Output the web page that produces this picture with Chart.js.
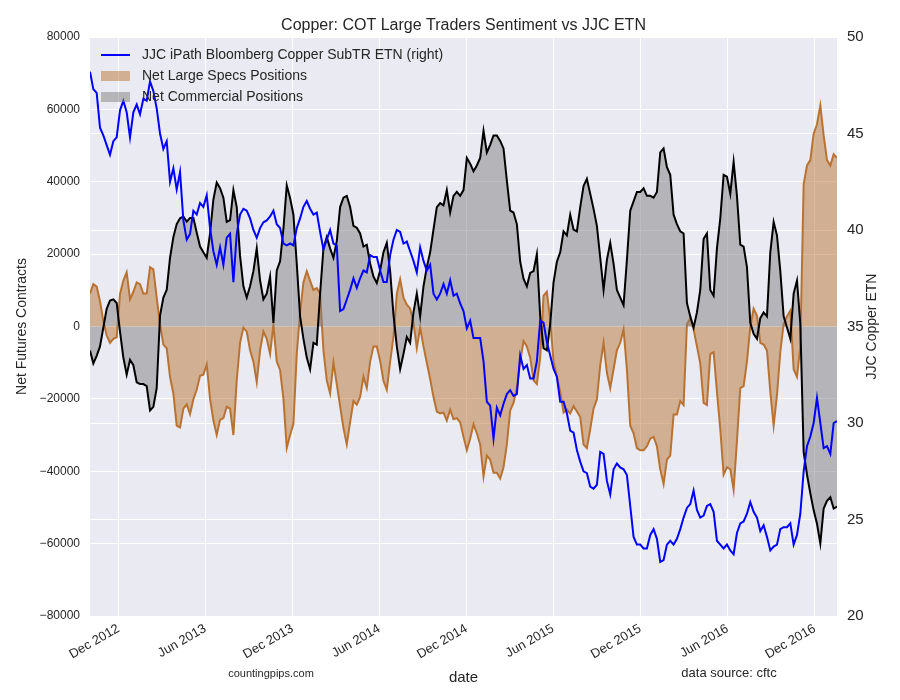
<!DOCTYPE html>
<html>
<head>
<meta charset="utf-8">
<title>Copper: COT Large Traders Sentiment vs JJC ETN</title>
<script src="https://cdn.jsdelivr.net/npm/chart.js@4.4.1/dist/chart.umd.min.js"></script>
<style>
  html, body { margin: 0; padding: 0; background: #fff; }
  #chart { display: block; }
</style>
</head>
<body>
<canvas id="chart" width="900" height="700"></canvas>
<script>
// weekly COT report dates, first report in the series
const startDate = '2012-10-02';

// x axis ticks
const tickDates = ['2012-12-01', '2013-06-01', '2013-12-01', '2014-06-01', '2014-12-01',
                   '2015-06-01', '2015-12-01', '2016-06-01', '2016-12-01'];
const tickLabels = ['Dec 2012', 'Jun 2013', 'Dec 2013', 'Jun 2014', 'Dec 2014',
                    'Jun 2015', 'Dec 2015', 'Jun 2016', 'Dec 2016'];

// JJC iPath Bloomberg Copper SubTR ETN, weekly close (right axis)
const jjcPrice = [
  48.2, 47.3, 47.1, 45.3, 44.9, 44.4, 43.9, 44.6, 44.8, 46.2,
  46.7, 46.1, 44.8, 46.1, 46.5, 46.0, 46.8, 46.7, 47.7, 47.2,
  46.3, 45.0, 44.2, 44.6, 42.5, 43.2, 42.1, 43.0, 40.5,
  39.5, 39.8, 41.0, 40.8, 41.4, 41.2, 41.8, 40.1, 38.9, 38.2,
  39.1, 38.2, 39.6, 39.8, 37.3, 39.8, 40.8, 41.1, 41.0, 40.6,
  40.0, 39.6, 40.1, 40.4, 40.5, 40.7, 41.0, 40.3,
  40.1, 39.3, 39.2, 39.3, 39.2, 40.1, 40.6, 41.2, 41.5, 41.1,
  40.8, 40.9, 39.9, 39.0, 39.5, 40.0, 39.3, 39.2, 35.8, 35.9,
  36.4, 36.9, 37.5, 37.0, 37.5, 37.9, 37.8, 38.7, 38.6,
  38.6, 37.9, 37.3, 37.3, 38.7, 39.5, 40.0, 39.9, 39.3, 39.4,
  38.9, 38.4, 37.8, 39.1, 38.4, 37.9, 38.2, 36.7, 36.4, 36.7,
  37.2, 36.7, 37.4, 36.6, 36.7, 36.2, 35.8, 34.9,
  35.3, 34.4, 34.4, 34.4, 33.2, 31.1, 30.9, 29.2, 30.8, 30.4,
  31.0, 31.5, 31.7, 31.4, 31.5, 33.5, 32.8, 33.0, 32.3, 32.3,
  33.2, 35.3, 35.2, 34.2, 33.5, 32.8, 32.4, 31.1, 31.1,
  30.5, 29.6, 29.5, 28.6, 28.0, 27.5, 27.4, 26.7, 26.6, 26.8,
  28.5, 28.4, 27.0, 26.3, 27.6, 27.9, 27.7, 27.6, 27.3, 25.7,
  24.1, 23.7, 23.7, 23.5, 23.5, 24.2, 24.5, 24.0,
  22.8, 22.9, 23.7, 23.9, 23.7, 24.0, 24.5, 25.1, 25.6, 25.8,
  26.5, 25.5, 25.1, 25.2, 25.7, 25.8, 25.4, 23.9, 23.7, 23.5,
  23.7, 23.4, 23.2, 24.3, 24.8, 24.9, 25.3, 25.9, 25.4,
  25.1, 24.4, 24.7, 24.1, 23.4, 23.6, 23.7, 24.5, 24.6, 24.6,
  24.8, 23.7, 24.2, 25.3, 27.5, 28.8, 29.3, 30.0, 31.3, 30.0,
  28.7, 28.8, 28.4, 30.0, 30.1
];

// Net large speculator positions (contracts)
const netSpecs = [
  9100, 11700, 11000, 7000, 1500, -2500, -4500, -3400, -3000, 9000,
  12700, 15000, 7500, 9600, 12200, 11700, 9100, 9100, 16400, 15800,
  8000, 500, -5000, -6000, -14000, -18500, -27400, -27900, -22700,
  -21500, -24200, -20100, -17500, -13600, -13300, -10500, -20000, -26000, -30000,
  -25800, -25300, -22200, -22700, -30000, -14900, -4500, -300, -1400, -6600,
  -9700, -15400, -6600, -1400, -3400, -7600, 500, -9700,
  -12000, -20000, -33600, -30000, -26900, -7600, 3900, 12200, 15300, 12700,
  10100, 10600, 9100, -6600, -14900, -18500, -10000, -15900, -22000, -28000,
  -32600, -26400, -20600, -21600, -19500, -13900, -17000, -9700, -5500,
  -5500, -9500, -15000, -17500, -9700, -2900, 9100, 13000, 8000, 6000,
  5000, 1000, -6000, -300, -5500, -10000, -14500, -19500, -23500, -24000,
  -23800, -26000, -23000, -25600, -25300, -26500, -30500, -34200,
  -31000, -27000, -29500, -32600, -41500, -35700, -36800, -40400, -40400, -42000,
  -38900, -32600, -23200, -21100, -17000, -9700, -4000, -5500, -8600, -14900,
  -15900, -8600, 8500, 9600, 1800, -9700, -13900, -18000, -23800,
  -23000, -24000, -22000, -23500, -25000, -32600, -33600, -28400, -22700, -20100,
  -10700, -4500, -12800, -17000, -11800, -6600, -4500, -800, -11800, -27400,
  -29500, -33600, -34200, -34200, -33100, -31000, -30500, -33100,
  -39500, -43500, -36800, -35700, -24300, -24300, -20600, -21700, 700, 2300,
  -800, -5500, -10200, -21100, -21700, -7600, -7100, -18000, -28400, -40900,
  -38900, -39400, -45100, -31600, -17000, -16500, -9700, 0, 4900,
  3000, -4500, -5000, -6600, -18000, -27400, -19000, -7000, 700, 2800,
  4400, -11800, -13900, -5500, 39300, 44500, 46000, 53300, 55900, 61100,
  52800, 46000, 44500, 47600, 46600
];

// Net commercial positions (contracts)
const netCommercials = [
  -6600, -10200, -8100, -5500, -300, 4900, 7200, 7500, 6500, -1400,
  -8600, -13300, -9200, -10700, -15400, -15900, -15900, -16500, -23200, -22200,
  -17000, 3000, 8000, 10100, 19000, 24700, 28300, 29900, 30400,
  29000, 30000, 30000, 26000, 22100, 20500, 19000, 25700, 35100, 39800,
  38200, 35600, 28900, 29400, 37700, 33000, 19500, 11100, 8000, 11100,
  15300, 21600, 12700, 7500, 9100, 13800, 1000, 15500,
  18000, 27000, 39000, 35500, 30900, 17400, 2800, -3400, -8600, -11800,
  -4500, -5000, 9100, 21600, 24700, 21600, 19000, 23600, 33000, 35600,
  36100, 33000, 27800, 27300, 25700, 22100, 22600, 17400, 13800,
  12000, 15500, 20500, 23100, 15300, 3300, -5500, -11800, -7600, -2900,
  -4500, 3900, 9100, 2800, 11100, 16400, 20500, 26800, 33000, 34100,
  33500, 37700, 31500, 36100, 37200, 36100, 37700, 46600,
  45000, 42900, 44500, 46600, 54100, 48100, 50200, 52800, 52800, 51300,
  49200, 40300, 32000, 31500, 28300, 17900, 13200, 11100, 14800, 15300,
  20000, 2800, -6000, -6600, 700, 12200, 17900, 20500, 26300,
  25200, 30900, 26800, 26300, 33000, 38800, 40800, 36700, 32500, 27800,
  19000, 10100, 18400, 23100, 17400, 10100, 8000, 5900, 18400, 32000,
  34600, 37200, 37200, 38200, 36100, 36100, 35600, 37200,
  48100, 49200, 44000, 41900, 30900, 28300, 26300, 25700, 6500, 2800,
  -300, 3900, 10100, 24200, 25700, 10100, 8500, 21600, 29900, 41900,
  41400, 36700, 45500, 36100, 22600, 22100, 16400, 1000, -2000,
  -3400, 2300, 3900, 2800, 20500, 28900, 25200, 15300, 2800, -300,
  -3400, 9100, 12700, 700, -34700, -40900, -46100, -50800, -54500, -60000,
  -50300, -48200, -47200, -50300, -49800
];

const WEEK = 7 * 24 * 3600 * 1000;
const weekOf = d => (Date.parse(d) - Date.parse(startDate)) / WEEK;
const tickWeeks = tickDates.map(weekOf);
const toPoints = arr => arr.map((v, i) => ({ x: i, y: v }));

const textColor = '#262626';
const sans = "'Liberation Sans', Arial, sans-serif";
const minus = v => String(v).replace('-', '\u2212');

const legendItems = [
  { label: 'JJC iPath Bloomberg Copper SubTR ETN (right)', type: 'line', color: '#0000ff' },
  { label: 'Net Large Specs Positions', type: 'patch', color: 'rgba(184,115,51,0.5)' },
  { label: 'Net Commercial Positions', type: 'patch', color: 'rgba(128,128,128,0.5)' }
];

// background, titles, footnotes and legend
const decorations = {
  id: 'decorations',
  beforeDraw(chart) {
    const { ctx, chartArea: a } = chart;
    ctx.save();
    ctx.fillStyle = '#ffffff';
    ctx.fillRect(0, 0, chart.width, chart.height);
    ctx.fillStyle = '#eaeaf2';
    ctx.fillRect(a.left, a.top, a.right - a.left, a.bottom - a.top);
    ctx.restore();
  },
  afterDraw(chart) {
    const { ctx, chartArea: a } = chart;
    const cx = (a.left + a.right) / 2;
    const cy = (a.top + a.bottom) / 2;
    ctx.save();
    ctx.fillStyle = textColor;
    ctx.textAlign = 'center';
    ctx.textBaseline = 'alphabetic';

    ctx.font = '16px ' + sans;
    ctx.fillText('Copper: COT Large Traders Sentiment vs JJC ETN', cx, 30);

    ctx.font = '15px ' + sans;
    ctx.fillText('date', cx, 682);

    ctx.font = '11px ' + sans;
    ctx.fillText('countingpips.com', 271, 677);
    ctx.font = '13px ' + sans;
    ctx.fillText('data source: cftc', 729, 677);

    ctx.font = '14px ' + sans;
    ctx.textBaseline = 'middle';
    ctx.save();
    ctx.translate(22, cy);
    ctx.rotate(-Math.PI / 2);
    ctx.fillText('Net Futures Contracts', 0, 0);
    ctx.restore();
    ctx.save();
    ctx.translate(872, cy);
    ctx.rotate(-Math.PI / 2);
    ctx.fillText('JJC Copper ETN', 0, 0);
    ctx.restore();

    // legend
    ctx.textAlign = 'left';
    legendItems.forEach((item, i) => {
      const y = a.top + 18 + i * 21;
      if (item.type === 'line') {
        ctx.strokeStyle = item.color;
        ctx.lineWidth = 2;
        ctx.beginPath();
        ctx.moveTo(a.left + 11, y);
        ctx.lineTo(a.left + 40, y);
        ctx.stroke();
      } else {
        ctx.fillStyle = item.color;
        ctx.fillRect(a.left + 11, y - 5, 29, 10);
      }
      ctx.fillStyle = textColor;
      ctx.fillText(item.label, a.left + 52, y);
    });
    ctx.restore();
  }
};

const gridStyle = { color: '#ffffff', lineWidth: 1, drawTicks: false };

new Chart(document.getElementById('chart'), {
  type: 'line',
  data: {
    datasets: [
      {
        label: 'JJC iPath Bloomberg Copper SubTR ETN (right)',
        data: toPoints(jjcPrice),
        yAxisID: 'y2',
        borderColor: '#0000ff',
        borderWidth: 2,
        pointRadius: 0,
        fill: false
      },
      {
        label: 'Net Commercial Positions',
        data: toPoints(netCommercials),
        yAxisID: 'y',
        borderColor: '#000000',
        backgroundColor: 'rgba(128,128,128,0.5)',
        borderWidth: 2,
        pointRadius: 0,
        fill: 'origin'
      },
      {
        label: 'Net Large Specs Positions',
        data: toPoints(netSpecs),
        yAxisID: 'y',
        borderColor: '#b87333',
        backgroundColor: 'rgba(184,115,51,0.5)',
        borderWidth: 2,
        pointRadius: 0,
        fill: 'origin'
      }
    ]
  },
  options: {
    responsive: false,
    animation: false,
    devicePixelRatio: 1,
    layout: { padding: { top: 37, left: 0, right: 0, bottom: 0 } },
    plugins: {
      legend: { display: false },
      title: { display: false },
      tooltip: { enabled: false }
    },
    scales: {
      x: {
        type: 'linear',
        min: 0,
        max: jjcPrice.length - 1,
        grid: gridStyle,
        border: { display: false },
        afterBuildTicks: scale => { scale.ticks = tickWeeks.map(v => ({ value: v })); },
        afterFit: scale => { scale.height = 84; },
        ticks: {
          autoSkip: false,
          maxRotation: 30,
          minRotation: 30,
          padding: 5,
          color: textColor,
          font: { family: sans, size: 13 },
          callback: (v, i) => tickLabels[i]
        }
      },
      y: {
        position: 'left',
        min: -80000,
        max: 80000,
        grid: gridStyle,
        border: { display: false },
        afterFit: scale => { scale.width = 90; },
        ticks: {
          stepSize: 20000,
          padding: 10,
          color: textColor,
          font: { family: sans, size: 12 },
          callback: v => minus(v)
        }
      },
      y2: {
        position: 'right',
        min: 20,
        max: 50,
        grid: gridStyle,
        border: { display: false },
        afterFit: scale => { scale.width = 63; },
        ticks: {
          stepSize: 5,
          padding: 10,
          color: textColor,
          font: { family: sans, size: 15 },
          callback: v => String(v)
        }
      }
    }
  },
  plugins: [decorations]
});
</script>
</body>
</html>
